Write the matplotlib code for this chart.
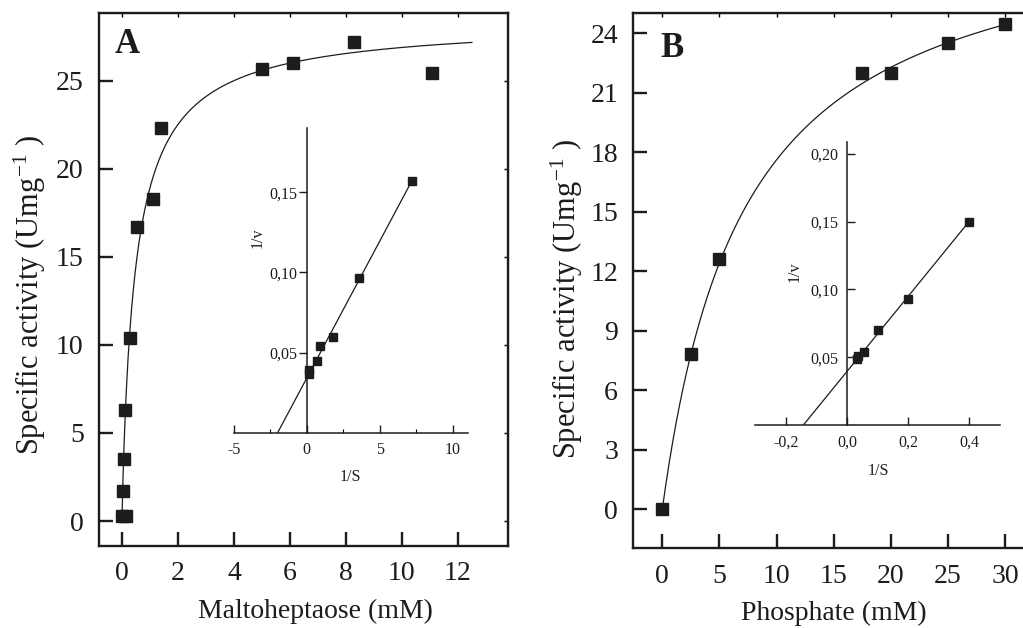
import numpy as np
import matplotlib
matplotlib.use("Agg")
import matplotlib.pyplot as plt
from matplotlib.ticker import FuncFormatter, MultipleLocator

plt.rcParams['font.family'] = ['Liberation Serif', 'DejaVu Serif']
plt.rcParams['mathtext.fontset'] = 'custom'
plt.rcParams['mathtext.rm'] = 'Liberation Serif'
plt.rcParams['mathtext.it'] = 'Liberation Serif:italic'

INK = '#1c1c1c'

# Panel A: maltoheptaose saturation curve
malto_mM = [0.0, 0.15, 0.04, 0.08, 0.12, 0.27, 0.54, 1.1, 1.38, 5.0, 6.1, 8.3, 11.07]
malto_act = [0.28, 0.3, 1.7, 3.5, 6.3, 10.4, 16.7, 18.3, 22.3, 25.7, 26.0, 27.2, 25.45]
malto_fit = dict(vmax=28.5, k=0.48, n=0.93, xmax=12.5)

# Panel A inset: double reciprocal
malto_inv_s = [0.16, 0.16, 0.73, 0.89, 1.81, 3.61, 7.19]
malto_inv_v = [0.0369, 0.0394, 0.0448, 0.0544, 0.0598, 0.0963, 0.157]
malto_lw_line = dict(intercept=0.034, slope=0.0171, x0=-2.0, x1=7.19)

# Panel B: phosphate saturation curve
phos_mM = [0, 2.5, 5, 17.5, 20, 25, 30]
phos_act = [0.0, 7.82, 12.6, 22.0, 22.0, 23.5, 24.45]
phos_fit = dict(vmax=30.3, k=7.2, n=1.0, xmax=30)

# Panel B inset: double reciprocal
phos_inv_s = [0.032, 0.037, 0.056, 0.10, 0.20, 0.40]
phos_inv_v = [0.0485, 0.051, 0.0537, 0.070, 0.093, 0.150]
phos_lw_line = dict(intercept=0.0394, slope=0.2775, x0=-0.142, x1=0.40)

W, H = 1023, 628
fig = plt.figure(figsize=(W / 100, H / 100), dpi=100)


def px_box(l, t, r, b):
    return [l / W, 1 - b / H, (r - l) / W, (b - t) / H]


def fit_curve(p):
    x = np.linspace(0, p['xmax'], 400)
    return x, p['vmax'] * x ** p['n'] / (p['k'] ** p['n'] + x ** p['n'])


def main_panel(box, xs, ys, fit, xlim, ylim, xticks, yticks, xlabel, letter, letter_xy,
               xlab_xy, ylab_xy):
    ax = fig.add_axes(px_box(*box))
    cx, cy = fit_curve(fit)
    ax.plot(cx, cy, color=INK, lw=0.9, zorder=2)
    ax.plot(xs, ys, 's', color=INK, ms=8.3, zorder=3, clip_on=False)
    ax.set_xlim(*xlim)
    ax.set_ylim(*ylim)
    ax.set_xticks(xticks)
    ax.set_yticks(yticks)
    for s in ax.spines.values():
        s.set_linewidth(1.7)
        s.set_color(INK)
    ax.tick_params(direction='in', length=10, width=1.7, colors=INK, labelsize=20)
    ax.tick_params(axis='x', pad=11)
    ax.tick_params(axis='y', pad=11)
    ax.secondary_xaxis('top').tick_params(direction='in', length=3, width=1, labeltop=False)
    ax.secondary_yaxis('right').tick_params(direction='in', length=3, width=1, labelright=False)
    ax.set_xlabel(xlabel, fontsize=20, color=INK)
    ax.xaxis.set_label_coords(*xlab_xy)
    ax.set_ylabel('Specific activity (Umg$^{\\mathrm{-1}}$ )', fontsize=22, color=INK)
    ax.yaxis.set_label_coords(*ylab_xy)
    ax.text(*letter_xy, letter, transform=ax.transAxes, fontsize=25, fontweight='bold',
            color=INK, ha='center', va='center')
    return ax


def inset_panel(box, xs, ys, line, xlim, ylim, xticks, yticks, xfmt, yfmt, ydir, ypad,
                minor, xlab_xy, ylab_xy):
    ax = fig.add_axes(px_box(*box))
    ax.patch.set_alpha(0)
    lx = np.array([line['x0'], line['x1']])
    ax.plot(lx, line['intercept'] + line['slope'] * lx, color=INK, lw=0.9)
    ax.plot(xs, ys, 's', color=INK, ms=6.2, clip_on=False)
    ax.set_xlim(*xlim)
    ax.set_ylim(*ylim)
    ax.set_xticks(xticks)
    ax.set_yticks(yticks)
    if minor:
        ax.xaxis.set_minor_locator(MultipleLocator(minor))
    ax.xaxis.set_major_formatter(FuncFormatter(xfmt))
    ax.yaxis.set_major_formatter(FuncFormatter(yfmt))
    ax.spines['top'].set_visible(False)
    ax.spines['right'].set_visible(False)
    ax.spines['left'].set_position(('data', 0))
    for s in ('left', 'bottom'):
        ax.spines[s].set_linewidth(1.1)
        ax.spines[s].set_color(INK)
    ax.tick_params(axis='x', direction='in', length=6, width=1, pad=7, labelsize=11.5,
                   colors=INK)
    ax.tick_params(axis='x', which='minor', direction='in', length=3, width=0.8)
    ax.tick_params(axis='y', direction=ydir, length=6, width=1, pad=ypad, labelsize=11.5,
                   colors=INK)
    ax.set_xlabel('1/S', fontsize=11.5, color=INK)
    ax.xaxis.set_label_coords(*xlab_xy)
    ax.set_ylabel('1/v', fontsize=11.5, color=INK)
    ax.yaxis.set_label_coords(*ylab_xy)
    return ax


main_panel((99, 13, 508.3, 546), malto_mM, malto_act, malto_fit,
           (-0.82, 13.8), (-1.42, 28.86), range(0, 13, 2), range(0, 26, 5),
           'Maltoheptaose (mM)', 'A', (0.07, 0.941), (0.53, -0.1), (-0.125, 0.47))

main_panel((633.3, 13.3, 1040, 548.3), phos_mM, phos_act, phos_fit,
           (-2.54, 33.04), (-1.98, 25.0), range(0, 31, 5), range(0, 25, 3),
           'Phosphate (mM)', 'B', (0.096, 0.934), (0.4935, -0.099), (-0.118, 0.465))

inset_panel((233.7, 128.3, 467.7, 432.7), malto_inv_s, malto_inv_v, malto_lw_line,
            (-5, 11.03), (0, 0.19), [-5, 0, 5, 10], [0.05, 0.10, 0.15],
            lambda v, p: f'{v:.0f}', lambda v, p: f'{v:.2f}'.replace('.', ','),
            'out', 1, 2.5, (0.5, -0.12), (0.135, 0.64))

inset_panel((755, 141.7, 1000, 425), phos_inv_s, phos_inv_v, phos_lw_line,
            (-0.3, 0.5), (0, 0.209), [-0.2, 0.0, 0.2, 0.4], [0.05, 0.10, 0.15, 0.20],
            lambda v, p: f'{v:.1f}'.replace('.', ','), lambda v, p: f'{v:.2f}'.replace('.', ','),
            'in', 6, None, (0.502, -0.135), (0.195, 0.541))

fig.savefig('out.png', dpi=100)
